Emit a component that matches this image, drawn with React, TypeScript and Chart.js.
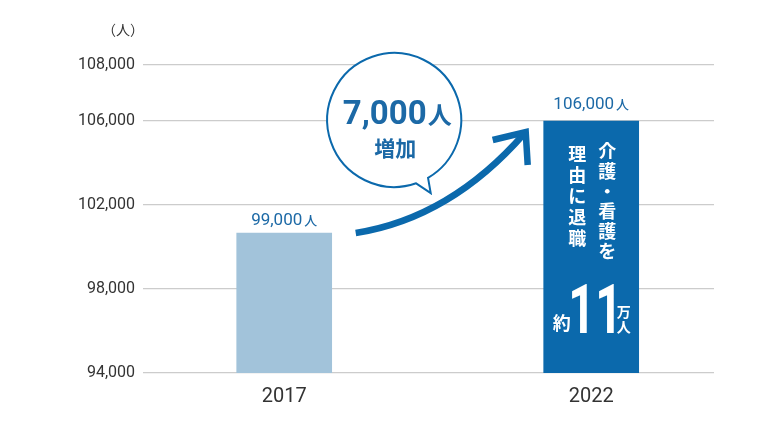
import React, { useEffect, useRef } from "react";
import { Chart, registerables } from "chart.js";

Chart.register(...registerables);

// ---- data ----
const categories = ["2017", "2022"];
const categoryPositions = [0, 1];
// bar heights as drawn against the (non-uniform) axis
const barValues = [100667, 106000];
const valueLabels = ["99,000", "106,000"];
const valueUnit = "人";
const yTickValues = [94000, 98000, 102000, 106000, 108667];
const yTickLabels = ["94,000", "98,000", "102,000", "106,000", "108,000"];
const yMin = 94000;
const yMax = 108667;
const xMin = -0.46;
const xMax = 1.4;
const unitLabel = "（人）";
const increaseNumber = "7,000";
const increaseUnit = "人";
const increaseText = "増加";
const barNoteRight = ["介", "護", "・", "看", "護", "を"];
const barNoteLeft = ["理", "由", "に", "退", "職"];
const approxPrefix = "約";
const approxNumber = "11";
const approxUnits = ["万", "人"];

const LIGHT = "#a2c3da";
const DARK = "#0b69ac";
const BLUE_TEXT = "#1c69a6";
const TEXT = "#333333";
const GRID = "#cccccc";
const NUM_FONT = 'Roboto, "Noto Sans", sans-serif';
const JP_FONT = '"Noto Sans CJK JP", "Noto Sans", sans-serif';

const annotations = {
  id: "annotations",
  afterDatasetsDraw(chart: any) {
    const ctx = chart.ctx as CanvasRenderingContext2D;
    const meta = chart.getDatasetMeta(0);
    const b0 = meta.data[0] as any;
    const b1 = meta.data[1] as any;
    const area = chart.chartArea;
    const yScale = chart.scales.y;
    const base = yScale.getPixelForValue(yMin);
    ctx.save();

    // unit label
    ctx.fillStyle = TEXT;
    ctx.font = `14px ${JP_FONT}`;
    ctx.textAlign = "right";
    ctx.textBaseline = "middle";
    ctx.fillText(unitLabel, area.left + 1, area.top - 35);

    // value labels above bars
    [b0, b1].forEach((b, i) => {
      ctx.textBaseline = "alphabetic";
      ctx.textAlign = "left";
      ctx.font = `17px ${NUM_FONT}`;
      const w1 = ctx.measureText(valueLabels[i]).width;
      ctx.font = `500 13px ${JP_FONT}`;
      const w2 = ctx.measureText(valueUnit).width;
      const start = b.x - (w1 + 2 + w2) / 2;
      const baseY = b.y - (i === 0 ? 8 : 12);
      ctx.fillStyle = BLUE_TEXT;
      ctx.font = `17px ${NUM_FONT}`;
      ctx.fillText(valueLabels[i], start, baseY);
      ctx.font = `500 13px ${JP_FONT}`;
      ctx.fillText(valueUnit, start + w1 + 2, baseY);
    });

    // curved arrow
    const p0x = b0.x + 47.5 + 24;
    const p0y = b0.y;
    const tipX = b1.x - 47.5 - 19;
    const tipY = b1.y + 12;
    ctx.strokeStyle = DARK;
    ctx.lineWidth = 6.5;
    ctx.lineCap = "butt";
    ctx.lineJoin = "miter";
    ctx.beginPath();
    ctx.moveTo(p0x, p0y);
    ctx.quadraticCurveTo(p0x + 95, p0y - 15, tipX, tipY);
    ctx.stroke();
    ctx.beginPath();
    ctx.moveTo(tipX - 32, tipY + 7);
    ctx.lineTo(tipX + 1, tipY - 1);
    ctx.lineTo(tipX + 3, tipY + 32);
    ctx.stroke();

    // speech bubble
    const cx = b0.x + 110;
    const cy = yScale.getPixelForValue(106000) - 1;
    const r = 67;
    const a1 = Math.atan2(65, 22.5);
    const a2 = Math.atan2(59, 34.5);
    ctx.beginPath();
    ctx.arc(cx, cy, r, a1, a2 + Math.PI * 2, false);
    ctx.lineTo(cx + 36.5, cy + 73);
    ctx.closePath();
    ctx.fillStyle = "#ffffff";
    ctx.fill();
    ctx.lineWidth = 2;
    ctx.strokeStyle = DARK;
    ctx.stroke();

    ctx.fillStyle = BLUE_TEXT;
    ctx.textBaseline = "alphabetic";
    ctx.textAlign = "left";
    ctx.font = `bold 33px ${NUM_FONT}`;
    const nw = ctx.measureText(increaseNumber).width;
    ctx.font = `bold 24px ${JP_FONT}`;
    const uw = ctx.measureText(increaseUnit).width;
    const sx = cx + 3 - (nw + 1 + uw) / 2;
    ctx.font = `bold 33px ${NUM_FONT}`;
    ctx.fillText(increaseNumber, sx, cy + 4);
    ctx.font = `bold 24px ${JP_FONT}`;
    ctx.fillText(increaseUnit, sx + nw + 1, cy + 4);
    ctx.font = `bold 21px ${JP_FONT}`;
    ctx.textAlign = "center";
    ctx.textBaseline = "middle";
    ctx.fillText(increaseText, cx + 1, cy + 28);

    // text inside 2022 bar
    ctx.fillStyle = "#ffffff";
    ctx.font = `bold 18px ${JP_FONT}`;
    ctx.textAlign = "center";
    ctx.textBaseline = "middle";
    barNoteRight.forEach((ch, i) => {
      ctx.fillText(ch, b1.x + 16, b1.y + 30 + i * 20);
    });
    barNoteLeft.forEach((ch, i) => {
      ctx.fillText(ch, b1.x - 14, b1.y + 33 + i * 21);
    });
    ctx.font = `bold 18px ${JP_FONT}`;
    ctx.fillText(approxPrefix, b1.x - 29.5, base - 50);
    ctx.font = `bold 68px ${NUM_FONT}`;
    ctx.textBaseline = "alphabetic";
    ctx.fillText(approxNumber, b1.x + 4, base - 40, 54);
    ctx.textBaseline = "middle";
    ctx.font = `bold 14px ${JP_FONT}`;
    ctx.fillText(approxUnits[0], b1.x + 32.5, base - 61.5);
    ctx.fillText(approxUnits[1], b1.x + 32.5, base - 46);

    ctx.restore();
  },
};

export default function App() {
  const ref = useRef<HTMLCanvasElement | null>(null);
  useEffect(() => {
    if (!ref.current) return;
    const chart = new Chart(ref.current, {
      type: "bar",
      data: {
        datasets: [
          {
            data: categoryPositions.map((x, i) => ({ x, y: barValues[i] })),
            backgroundColor: [LIGHT, DARK],
            barThickness: 95,
            borderWidth: 0,
          },
        ],
      },
      options: {
        responsive: false,
        animation: false,
        layout: { padding: { left: 0, top: 65, right: 68, bottom: 0 } },
        plugins: { legend: { display: false }, tooltip: { enabled: false } },
        scales: {
          x: {
            type: "linear",
            min: xMin,
            max: xMax,
            offset: false,
            grid: { display: false, offset: false, drawTicks: false },
            border: { display: false },
            afterBuildTicks: (s: any) => {
              s.ticks = categoryPositions.map((v) => ({ value: v }));
            },
            afterFit: (s: any) => {
              s.height = 49;
            },
            ticks: {
              autoSkip: false,
              maxRotation: 0,
              padding: 12,
              color: TEXT,
              font: { family: NUM_FONT, size: 20 },
              callback: (v: any) => categories[categoryPositions.indexOf(Number(v))] ?? "",
            },
          },
          y: {
            type: "linear",
            min: yMin,
            max: yMax,
            grid: { color: GRID, lineWidth: 1.2, drawTicks: false },
            border: { display: false },
            afterBuildTicks: (s: any) => {
              s.ticks = yTickValues.map((v) => ({ value: v }));
            },
            afterFit: (s: any) => {
              s.width = 143;
            },
            ticks: {
              padding: 8,
              color: TEXT,
              font: { family: NUM_FONT, size: 16 },
              callback: (v: any) => yTickLabels[yTickValues.indexOf(Number(v))] ?? "",
            },
          },
        },
      },
      plugins: [annotations],
    } as any);
    return () => chart.destroy();
  }, []);
  return (
    <div style={{ position: "absolute", left: 0, top: 0, width: 782, height: 422, background: "#fff" }}>
      <canvas ref={ref} width={782} height={422} style={{ width: 782, height: 422 }} />
    </div>
  );
}
